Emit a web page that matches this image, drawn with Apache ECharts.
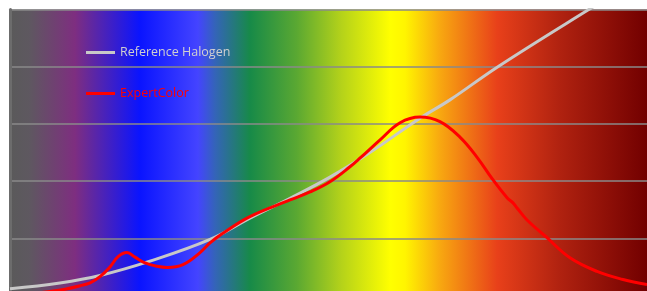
<!DOCTYPE html>
<html>
<head>
<meta charset="utf-8">
<script src="https://cdn.jsdelivr.net/npm/echarts@6/dist/echarts.min.js"></script>
<style>
  html, body { margin: 0; padding: 0; background: #fff; }
  #chart { width: 647px; height: 291px; }
</style>
</head>
<body>
<div id="chart"></div>
<script>
"use strict"

// wavelength (nm) and relative intensity
const halogenNm = [400, 423.5, 442.4, 465.9, 494.2, 513.0, 531.9, 550.7, 569.5, 593.1, 607.2, 629.8, 672.2, 700]
const halogenVal = [0.12, 0.22, 0.35, 0.60, 0.98, 1.35, 1.70, 2.07, 2.50, 3.10, 3.42, 4.00, 4.99, 5.62]

const expertNm = [400, 409.4, 418.8, 425.9, 433.0, 437.7, 442.4, 447.1, 450.9, 455.1, 458.9, 463.6, 469.3, 474.0, 481.5, 489.5, 494.2, 499.9, 513.0, 531.9, 541.3, 550.7, 560.1, 564.8, 574.3, 583.7, 593.1, 602.5, 611.9, 619.9, 627.5, 634.1, 636.9, 638.8, 643.5, 652.9, 663.7, 676.5, 688.7, 700]
const expertVal = [0.00, 0.03, 0.07, 0.11, 0.17, 0.22, 0.33, 0.50, 0.68, 0.75, 0.67, 0.57, 0.51, 0.49, 0.54, 0.75, 0.92, 1.08, 1.38, 1.67, 1.81, 1.99, 2.25, 2.40, 2.72, 3.02, 3.12, 3.04, 2.77, 2.42, 2.02, 1.71, 1.62, 1.53, 1.32, 1.01, 0.66, 0.42, 0.28, 0.19]

const seriesNames = ["Reference Halogen", "ExpertColor"]

const zip = (xs, ys) => xs.map((x, i) => [x, ys[i]])

const spectrum = new echarts.graphic.LinearGradient(0, 0, 1, 0, [
  { offset: 0, color: "#5a5a5a" },
  { offset: 0.03, color: "#5e5860" },
  { offset: 0.102, color: "#7e2e80" },
  { offset: 0.204, color: "#0a14ff" },
  { offset: 0.295, color: "#4444ff" },
  { offset: 0.322, color: "#3464b8" },
  { offset: 0.377, color: "#178a48" },
  { offset: 0.45, color: "#5aa832" },
  { offset: 0.52, color: "#b4d21a" },
  { offset: 0.597, color: "#ffff00" },
  { offset: 0.62, color: "#fff500" },
  { offset: 0.675, color: "#f8a810" },
  { offset: 0.765, color: "#e8401a" },
  { offset: 0.863, color: "#b02210" },
  { offset: 1, color: "#720000" },
])

const chart = echarts.init(document.getElementById("chart"), null, { renderer: "canvas" })

const legendFor = (name, top, color) => ({
  data: [name],
  left: 86,
  top: top,
  padding: 0,
  icon: "rect",
  itemWidth: 29,
  itemHeight: 3,
  textStyle: { color: color, fontFamily: "Open Sans", fontSize: 12.5 },
})

chart.setOption({
  animation: false,
  grid: {
    left: 10,
    right: 0,
    top: 9.5,
    height: 286,
    outerBoundsMode: "none",
    show: true,
    borderWidth: 0,
    backgroundColor: spectrum,
  },
  legend: [
    legendFor(seriesNames[0], 46, "#d0d0d0"),
    legendFor(seriesNames[1], 87, "#ff0000"),
  ],
  xAxis: {
    type: "value",
    min: 400,
    max: 700,
    show: false,
  },
  yAxis: {
    type: "value",
    min: 0,
    max: 5,
    interval: 1,
    axisLabel: { show: false },
    axisTick: { show: false },
    axisLine: { show: true, lineStyle: { color: "#6c6c6c", width: 3 } },
    splitLine: { lineStyle: { color: "#8a8a8a", width: 1.5 } },
  },
  series: [
    {
      name: seriesNames[0],
      type: "line",
      data: zip(halogenNm, halogenVal),
      smooth: 0.4,
      symbol: "none",
      color: "#c8c8c8",
      lineStyle: { color: "#c8c8c8", width: 3 },
    },
    {
      name: seriesNames[1],
      type: "line",
      data: zip(expertNm, expertVal),
      smooth: 0.4,
      symbol: "none",
      color: "#ff0000",
      lineStyle: { color: "#ff0000", width: 3 },
    },
  ],
})
</script>
</body>
</html>
